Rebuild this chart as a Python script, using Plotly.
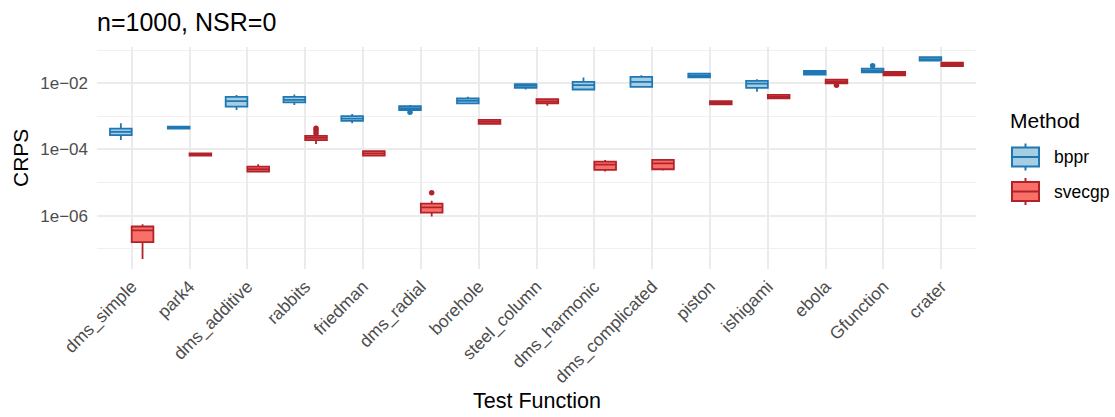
import plotly.graph_objects as go

categories = ["dms_simple", "park4", "dms_additive", "rabbits", "friedman", "dms_radial",
              "borehole", "steel_column", "dms_harmonic", "dms_complicated", "piston",
              "ishigami", "ebola", "Gfunction", "crater"]

# bppr box statistics (CRPS)
bppr_q1 = [2.69e-4, 4.27e-4, 1.95e-3, 2.63e-3, 7.24e-4, 1.55e-3, 2.45e-3, 7.24e-3, 6.46e-3, 7.76e-3, 1.51e-2, 7.24e-3, 1.82e-2, 2.14e-2, 4.79e-2]
bppr_med = [3.39e-4, 4.57e-4, 2.88e-3, 3.16e-3, 8.51e-4, 1.78e-3, 2.95e-3, 8.32e-3, 8.71e-3, 1.10e-2, 1.70e-2, 9.77e-3, 2.04e-2, 2.40e-2, 5.37e-2]
bppr_q3 = [4.27e-4, 4.90e-4, 3.89e-3, 3.89e-3, 1.02e-3, 2.04e-3, 3.47e-3, 9.33e-3, 1.10e-2, 1.55e-2, 1.95e-2, 1.17e-2, 2.34e-2, 2.75e-2, 6.17e-2]
bppr_lo = [1.91e-4, 4.17e-4, 1.55e-3, 2.19e-3, 6.17e-4, 1.51e-3, 2.40e-3, 6.46e-3, 6.17e-3, 7.24e-3, 1.48e-2, 5.50e-3, 1.70e-2, 2.09e-2, 4.68e-2]
bppr_hi = [6.17e-4, 5.01e-4, 4.37e-3, 4.57e-3, 1.17e-3, 2.19e-3, 3.89e-3, 9.55e-3, 1.48e-2, 1.74e-2, 2.00e-2, 1.32e-2, 2.40e-2, 2.95e-2, 6.31e-2]
bppr_out_cat = ["dms_radial", "Gfunction"]
bppr_out_val = [1.32e-3, 3.39e-2]

# svecgp box statistics (CRPS)
svecgp_q1 = [1.58e-7, 6.46e-5, 2.14e-5, 1.91e-4, 6.46e-5, 1.23e-6, 5.89e-4, 2.45e-3, 2.40e-5, 2.51e-5, 2.29e-3, 3.47e-3, 1.00e-2, 1.74e-2, 3.31e-2]
svecgp_med = [3.55e-7, 7.08e-5, 2.51e-5, 2.24e-4, 7.59e-5, 1.78e-6, 6.76e-4, 2.82e-3, 3.47e-5, 3.80e-5, 2.57e-3, 3.89e-3, 1.12e-2, 1.95e-2, 3.72e-2]
svecgp_q3 = [4.68e-7, 7.59e-5, 3.02e-5, 2.57e-4, 8.91e-5, 2.29e-6, 7.76e-4, 3.31e-3, 4.27e-5, 4.79e-5, 2.88e-3, 4.47e-3, 1.29e-2, 2.19e-2, 4.17e-2]
svecgp_lo = [4.90e-8, 6.31e-5, 2.09e-5, 1.45e-4, 6.31e-5, 9.33e-7, 5.75e-4, 2.09e-3, 2.14e-5, 2.29e-5, 2.24e-3, 3.39e-3, 9.77e-3, 1.70e-2, 3.24e-2]
svecgp_hi = [5.50e-7, 7.76e-5, 3.55e-5, 2.82e-4, 9.12e-5, 2.82e-6, 7.94e-4, 3.39e-3, 4.79e-5, 5.13e-5, 2.95e-3, 4.57e-3, 1.32e-2, 2.24e-2, 4.27e-2]
svecgp_out_cat = ["rabbits", "rabbits", "rabbits", "dms_radial", "ebola"]
svecgp_out_val = [4.37e-4, 3.72e-4, 3.09e-4, 4.90e-6, 8.71e-3]

methods = ["bppr", "svecgp"]

y_tickvals = [1e-2, 1e-4, 1e-6]
y_ticktext = ["1e\u221202", "1e\u221204", "1e\u221206"]
y_minorvals = [1e-1, 1e-3, 1e-5, 1e-7]

FONT = "Liberation Sans, Arial, Helvetica, sans-serif"
LINE_C = {"bppr": "#1F78B4", "svecgp": "#B2222A"}
FILL_C = {"bppr": "#A6CEE3", "svecgp": "#F87068"}
DODGE = 0.1875
BOXW = 0.375

pos = {c: i for i, c in enumerate(categories)}

fig = go.Figure()


def add_method(name, q1, med, q3, lo, hi, out_cat, out_val, shift):
    xs = [pos[c] + shift for c in categories]
    fig.add_trace(go.Box(
        x=xs, q1=q1, median=med, q3=q3, lowerfence=lo, upperfence=hi,
        name=name, width=BOXW, whiskerwidth=0, boxpoints=False,
        line=dict(color=LINE_C[name], width=1.8), fillcolor=FILL_C[name],
        showlegend=False,
    ))
    fig.add_trace(go.Scatter(
        x=[pos[c] + shift for c in out_cat], y=out_val, mode="markers",
        marker=dict(color=LINE_C[name], size=5.5), showlegend=False,
        hoverinfo="y", name=name,
    ))


add_method("bppr", bppr_q1, bppr_med, bppr_q3, bppr_lo, bppr_hi,
           bppr_out_cat, bppr_out_val, -DODGE)
add_method("svecgp", svecgp_q1, svecgp_med, svecgp_q3, svecgp_lo, svecgp_hi,
           svecgp_out_cat, svecgp_out_val, DODGE)

W, H = 1115, 417
L, R, T, B = 97, 139, 47, 148
ph = H - T - B
pw = W - L - R


def px_x(px):
    return (px - L) / pw


def px_y(py):
    return (H - B - py) / ph


# ggplot-style legend keys drawn as shapes (pixel layout only)
shapes = []
annotations = []
key_left, key_right = 1012, 1039
key_cx = (key_left + key_right) / 2
for k, m in enumerate(methods):
    cy = 157 + 34.5 * k
    top, bot = cy - 9.5, cy + 9.5
    lc = LINE_C[m]
    shapes.append(dict(type="rect", xref="paper", yref="paper",
                       x0=px_x(key_left), x1=px_x(key_right), y0=px_y(bot), y1=px_y(top),
                       fillcolor=FILL_C[m], line=dict(color=lc, width=2)))
    shapes.append(dict(type="line", xref="paper", yref="paper",
                       x0=px_x(key_left), x1=px_x(key_right), y0=px_y(cy), y1=px_y(cy),
                       line=dict(color=lc, width=2)))
    shapes.append(dict(type="line", xref="paper", yref="paper",
                       x0=px_x(key_cx), x1=px_x(key_cx), y0=px_y(top), y1=px_y(top - 4),
                       line=dict(color=lc, width=2)))
    shapes.append(dict(type="line", xref="paper", yref="paper",
                       x0=px_x(key_cx), x1=px_x(key_cx), y0=px_y(bot), y1=px_y(bot + 4),
                       line=dict(color=lc, width=2)))
    annotations.append(dict(text=m, x=px_x(1052), xref="paper", y=px_y(cy), yref="paper",
                            xanchor="left", yanchor="middle", showarrow=False,
                            font=dict(size=17.5, color="black", family=FONT)))

annotations += [
    dict(text="Test Function", x=0.5, xref="paper", y=px_y(401), yref="paper",
         xanchor="center", yanchor="middle", showarrow=False,
         font=dict(size=21.5, color="black", family=FONT)),
    dict(text="CRPS", x=px_x(20), xref="paper", y=0.5, yref="paper",
         xanchor="center", yanchor="middle", textangle=-90, showarrow=False,
         font=dict(size=21, color="black", family=FONT)),
    dict(text="Method", x=px_x(1008), xref="paper", y=px_y(120), yref="paper",
         xanchor="left", yanchor="middle", showarrow=False,
         font=dict(size=21, color="black", family=FONT)),
]

fig.update_layout(
    width=W, height=H,
    margin=dict(l=L, r=R, t=T, b=B, autoexpand=False),
    paper_bgcolor="white", plot_bgcolor="white",
    font=dict(family=FONT, color="black"),
    boxmode="overlay",
    showlegend=False,
    title=dict(text="n=1000, NSR=0", x=L / W, xanchor="left", xref="container",
               y=1 - 22 / H, yanchor="middle", yref="container",
               font=dict(size=25, color="black", family=FONT)),
    xaxis=dict(
        range=[-0.6, len(categories) - 0.4],
        tickmode="array", tickvals=list(range(len(categories))), ticktext=categories,
        tickangle=-45, tickfont=dict(size=17.5, color="#4D4D4D", family=FONT),
        showgrid=True, gridcolor="#EBEBEB", gridwidth=1.5,
        zeroline=False, showline=False, ticks="", automargin=False,
        ticklabelstandoff=3,
    ),
    yaxis=dict(
        type="log", range=[-7.615, -0.905],
        tickmode="array", tickvals=y_tickvals, ticktext=y_ticktext,
        tickfont=dict(size=17, color="#4D4D4D", family=FONT),
        showgrid=True, gridcolor="#EBEBEB", gridwidth=1.5,
        minor=dict(tickmode="array", tickvals=y_minorvals, showgrid=True,
                   gridcolor="#F0F0F0", gridwidth=0.9, ticks=""),
        zeroline=False, showline=False, ticks="", automargin=False,
        ticklabelstandoff=8,
    ),
    shapes=shapes,
    annotations=annotations,
)

fig.write_html("out.html")
